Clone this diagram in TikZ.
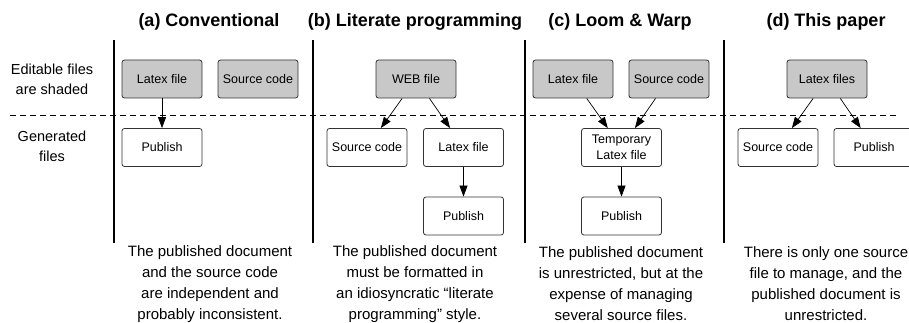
\documentclass[tikz,border=0pt]{standalone}
\usepackage{fontspec}
\setmainfont{Liberation Sans}
\usetikzlibrary{arrows.meta}
\definecolor{shade}{RGB}{200,200,200}
\definecolor{edge}{RGB}{50,50,50}
\begin{document}
\begin{tikzpicture}[x=1pt,y=-1pt]
\tikzstyle{file}=[draw=edge,line width=0.8pt,rounded corners=2.5pt,minimum width=80pt,minimum height=38pt,inner sep=1pt,align=center,font=\fontsize{12.5}{16}\selectfont]
\tikzstyle{edited}=[file,fill=shade]
\tikzstyle{flow}=[draw=black,line width=0.7pt,-{Triangle[length=11pt,width=8pt]}]
\tikzstyle{title}=[font=\fontsize{18}{20}\selectfont\bfseries]
\tikzstyle{note}=[align=center,font=\fontsize{15}{21}\selectfont]
\useasboundingbox (0,0) rectangle (909,323);
\node [note,font=\fontsize{14.5}{20}\selectfont] (editable) at (52,79) {Editable files\\are shaded};
\node [note,font=\fontsize{14.5}{20}\selectfont] (generated) at (52,146) {Generated\\files};
\draw [black,line width=0.8pt,dash pattern=on 6pt off 4pt] (10,115) -- (897,115);
\draw [black,line width=1.8pt] (114,40) -- (114,243);
\draw [black,line width=1.8pt] (313,40) -- (313,243);
\draw [black,line width=1.8pt] (525,40) -- (525,243);
\draw [black,line width=1.8pt] (724,40) -- (724,243);
\node [title] (ta) at (209,22) {(a) Conventional};
\node [edited] (latexA) at (162,79) {Latex file};
\node [edited] (srcA) at (258,79) {Source code};
\node [file] (pubA) at (162,147.5) {Publish};
\draw [flow] (latexA) -- (pubA);
\node [note] (capA) at (210,284) {The published document\\and the source code\\are independent and\\probably inconsistent.};
\node [title] (tb) at (415,22) {(b) Literate programming};
\node [edited] (web) at (416,79) {WEB file};
\node [file] (srcB) at (367,147.5) {Source code};
\node [file] (latexB) at (463.5,147.5) {Latex file};
\node [file] (pubB) at (463.5,216) {Publish};
\draw [flow] (web) -- (srcB);
\draw [flow] (web) -- (latexB);
\draw [flow] (latexB) -- (pubB);
\node [note] (capB) at (415,284) {The published document\\must be formatted in\\an idiosyncratic “literate\\programming” style.};
\node [title] (tc) at (620,22) {(c) Loom \& Warp};
\node [edited] (latexC) at (573,79) {Latex file};
\node [edited] (srcC) at (669,79) {Source code};
\node [file] (temp) at (621.5,147.5) {Temporary\\Latex file};
\node [file] (pubC) at (621.5,216) {Publish};
\draw [flow] (latexC) -- (temp);
\draw [flow] (srcC) -- (temp);
\draw [flow] (temp) -- (pubC);
\node [note] (capC) at (621,284) {The published document\\is unrestricted, but at the\\expense of managing\\several source files.};
\node [title] (td) at (826,22) {(d) This paper};
\node [edited] (latexD) at (827,79) {Latex files};
\node [file] (srcD) at (778,147.5) {Source code};
\node [file] (pubD) at (874,147.5) {Publish};
\draw [flow] (latexD) -- (srcD);
\draw [flow] (latexD) -- (pubD);
\node [note] (capD) at (826,284) {There is only one source\\file to manage, and the\\published document is\\unrestricted.};
\end{tikzpicture}
\end{document}
